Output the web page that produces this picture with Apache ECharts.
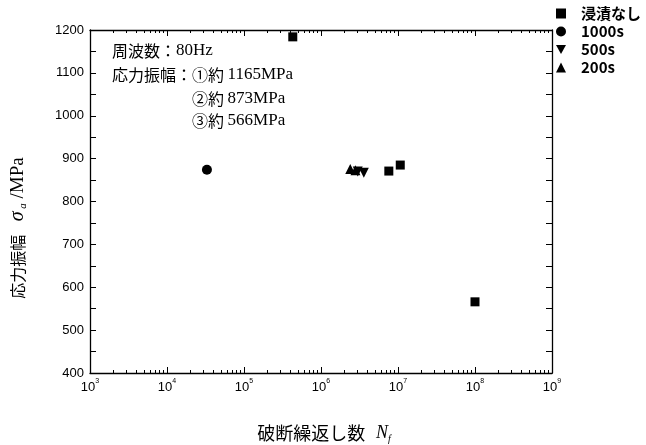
<!DOCTYPE html>
<html>
<head>
<meta charset="utf-8">
<script src="https://cdn.jsdelivr.net/npm/echarts@6/dist/echarts.min.js"></script>
<style>
html,body{margin:0;padding:0;background:#fff;}
#c{width:646px;height:445px;}
</style>
</head>
<body>
<div id="c"></div>
<script>
// ---- data ----
const seriesNames = ['浸漬なし', '1000s', '500s', '200s'];
const cyclesNone = [4.3e5, 7.6e6, 1.07e7, 1.0e8];
const stressNone = [1184, 871, 885, 566];
const cycles1000 = [3.3e4];
const stress1000 = [874];
const cycles500 = [3.0e6, 3.6e6];
const stress500 = [870, 867];
const cycles200 = [2.4e6, 2.8e6];
const stress200 = [876, 873];
const xExponents = [3, 4, 5, 6, 7, 8, 9];
const yTicks = [400, 500, 600, 700, 800, 900, 1000, 1100, 1200];

const pairs = (xs, ys) => xs.map((x, i) => [x, ys[i]]);
const xMin = Math.pow(10, xExponents[0]);
const xMax = Math.pow(10, xExponents[xExponents.length - 1]);
const minorVals = [];
for (let e = xExponents[0]; e < xExponents[xExponents.length - 1]; e++) {
  for (let k = 2; k <= 9; k++) minorVals.push(k * Math.pow(10, e));
}
const majorVals = xExponents.map(e => Math.pow(10, e));

const chart = echarts.init(document.getElementById('c'));
const sans = 'Liberation Sans';
const cjk = 'Noto Sans CJK JP';
const serif = 'Liberation Serif';

function xLabelFmt(v) {
  const e = Math.round(Math.log10(v));
  return '{b|10}{s|' + e + '}';
}

const baseXAxis = {
  type: 'log', logBase: 10, min: xMin, max: xMax,
  axisLine: { show: true, onZero: false, lineStyle: { color: '#000', width: 1.3 } },
  splitLine: { show: false },
};

const noteRich = {
  c: { fontFamily: cjk, fontSize: 16, fill: '#000' },
  r: { fontFamily: serif, fontSize: 17, fill: '#000' }
};

const option = {
  animation: false,
  grid: { left: 90, right: 94, top: 30, bottom: 72, containLabel: false },
  legend: {
    orient: 'vertical', left: 551, top: 1, itemGap: 3,
    itemWidth: 10, itemHeight: 10,
    textStyle: { fontFamily: cjk, fontSize: 15, fontWeight: 'bold', color: '#000', padding: [0, 0, 0, 10] },
    data: seriesNames
  },
  xAxis: [
    Object.assign({}, baseXAxis, {
      position: 'bottom',
      axisTick: { show: true, inside: true, length: 6, customValues: majorVals, lineStyle: { color: '#000' } },
      axisLabel: {
        show: true, margin: 5, customValues: majorVals, formatter: xLabelFmt,
        rich: {
          b: { fontFamily: sans, fontSize: 13, color: '#000', verticalAlign: 'bottom', lineHeight: 16 },
          s: { fontFamily: sans, fontSize: 7, color: '#000', verticalAlign: 'top', lineHeight: 16 }
        }
      }
    }),
    Object.assign({}, baseXAxis, {
      position: 'bottom',
      axisLine: { show: false },
      axisTick: { show: true, inside: true, length: 3, customValues: minorVals, lineStyle: { color: '#000' } },
      axisLabel: { show: false }
    }),
    Object.assign({}, baseXAxis, {
      position: 'top',
      axisTick: { show: true, inside: true, length: 6, customValues: majorVals, lineStyle: { color: '#000' } },
      axisLabel: { show: false }
    }),
    Object.assign({}, baseXAxis, {
      position: 'top',
      axisLine: { show: false },
      axisTick: { show: true, inside: true, length: 3, customValues: minorVals, lineStyle: { color: '#000' } },
      axisLabel: { show: false }
    })
  ],
  yAxis: [
    {
      type: 'value', min: yTicks[0], max: yTicks[yTicks.length - 1], interval: 100,
      position: 'left',
      axisLine: { show: true, onZero: false, lineStyle: { color: '#000', width: 1.3 } },
      axisTick: { show: true, inside: true, length: 6, lineStyle: { color: '#000' } },
      minorTick: { show: true, splitNumber: 2, length: 6, lineStyle: { color: '#000' } },
      axisLabel: { margin: 6, fontFamily: sans, fontSize: 13, color: '#000', formatter: v => String(v) },
      splitLine: { show: false }, minorSplitLine: { show: false }
    },
    {
      type: 'value', min: yTicks[0], max: yTicks[yTicks.length - 1], interval: 100,
      position: 'right',
      axisLine: { show: true, onZero: false, lineStyle: { color: '#000', width: 1.3 } },
      axisTick: { show: true, inside: true, length: 6, lineStyle: { color: '#000' } },
      minorTick: { show: true, splitNumber: 2, length: 6, lineStyle: { color: '#000' } },
      axisLabel: { show: false },
      splitLine: { show: false }, minorSplitLine: { show: false }
    }
  ],
  series: [
    { name: seriesNames[0], type: 'scatter', symbol: 'rect', symbolSize: 9, clip: false,
      itemStyle: { color: '#000', opacity: 1 }, data: pairs(cyclesNone, stressNone) },
    { name: seriesNames[1], type: 'scatter', symbol: 'circle', symbolSize: 10, clip: false,
      itemStyle: { color: '#000', opacity: 1 }, data: pairs(cycles1000, stress1000) },
    { name: seriesNames[2], type: 'scatter', symbol: 'path://M0,0 L10,0 L5,9 Z', symbolSize: 10, clip: false,
      itemStyle: { color: '#000', opacity: 1 }, data: pairs(cycles500, stress500) },
    { name: seriesNames[3], type: 'scatter', symbol: 'triangle', symbolSize: 10, clip: false,
      itemStyle: { color: '#000', opacity: 1 }, data: pairs(cycles200, stress200) }
  ],
  graphic: [
    { type: 'text', left: 112, top: 42, style: { text: '{c|周波数：}{r|80Hz}', rich: noteRich } },
    { type: 'text', left: 112, top: 66, style: { text: '{c|応力振幅：①約 }{r|1165MPa}', rich: noteRich } },
    { type: 'text', left: 192, top: 90, style: { text: '{c|②約 }{r|873MPa}', rich: noteRich } },
    { type: 'text', left: 192, top: 112, style: { text: '{c|③約 }{r|566MPa}', rich: noteRich } },
    { type: 'text', x: 18, y: 228, rotation: Math.PI / 2,
      style: { text: '{c|応力振幅}{sp|    }{it|σ}{sub| a}{r| /MPa}', align: 'center', verticalAlign: 'middle', rich: {
        c: { fontFamily: cjk, fontSize: 16, fill: '#000', lineHeight: 22, verticalAlign: 'middle' },
        sp: { fontFamily: cjk, fontSize: 15, lineHeight: 22 },
        it: { fontFamily: serif, fontStyle: 'italic', fontSize: 20, fill: '#000', lineHeight: 22, verticalAlign: 'middle' },
        sub: { fontFamily: serif, fontStyle: 'italic', fontSize: 11, fill: '#000', lineHeight: 22, verticalAlign: 'bottom' },
        r: { fontFamily: serif, fontSize: 19, fill: '#000', lineHeight: 22, verticalAlign: 'middle' }
      } } },
    { type: 'text', x: 324, y: 433,
      style: { text: '{c|破断繰返し数}{sp|   }{it|N}{sub|f}', align: 'center', verticalAlign: 'middle', rich: {
        c: { fontFamily: cjk, fontSize: 18, fill: '#000', lineHeight: 22, verticalAlign: 'middle' },
        sp: { fontFamily: cjk, fontSize: 16, lineHeight: 22 },
        it: { fontFamily: serif, fontStyle: 'italic', fontSize: 18, fill: '#000', lineHeight: 22, verticalAlign: 'middle' },
        sub: { fontFamily: serif, fontStyle: 'italic', fontSize: 10, fill: '#000', lineHeight: 22, verticalAlign: 'bottom' }
      } } }
  ]
};
chart.setOption(option);
</script>
</body>
</html>
